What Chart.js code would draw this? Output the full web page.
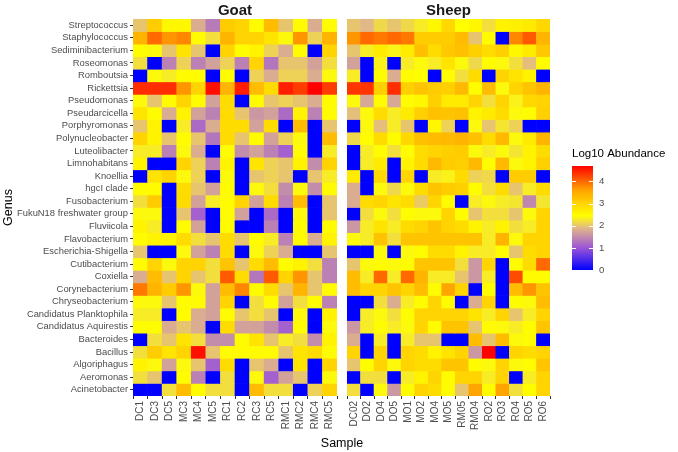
<!DOCTYPE html>
<html lang="en">
<head>
    <meta charset="UTF-8">
    <title>Genus abundance heatmap</title>
    <script src="https://cdn.jsdelivr.net/npm/chart.js"></script>
    <style>
        body {
            margin: 0;
            padding: 0;
            background-color: #fff;
        }

        .wrap {
            position: relative;
            width: 678px;
            height: 452px;
        }

        .wrap canvas {
            position: absolute;
            left: 0;
            top: 0;
        }
    </style>
</head>
<body>
    <div class="wrap">
        <canvas id="goatChart" width="678" height="452"></canvas>
        <canvas id="sheepChart" width="678" height="452"></canvas>
    </div>
    <script>
        // rows, top to bottom
        const genera = [
            'Streptococcus', 'Staphylococcus', 'Sediminibacterium', 'Roseomonas', 'Romboutsia',
            'Rickettsia', 'Pseudomonas', 'Pseudarcicella', 'Porphyromonas', 'Polynucleobacter',
            'Luteolibacter', 'Limnohabitans', 'Knoellia', 'hgcI clade', 'Fusobacterium',
            'FukuN18 freshwater group', 'Fluviicola', 'Flavobacterium', 'Escherichia-Shigella', 'Cutibacterium',
            'Coxiella', 'Corynebacterium', 'Chryseobacterium', 'Candidatus Planktophila', 'Candidatus Aquirestis',
            'Bacteroides', 'Bacillus', 'Algoriphagus', 'Aeromonas', 'Acinetobacter'
        ];

        const goatSamples = ['DC1', 'DC3', 'DC5', 'MC3', 'MC4', 'MC5', 'RC1', 'RC2', 'RC3', 'RC5', 'RMC1', 'RMC2', 'RMC4', 'RMC5'];
        const sheepSamples = ['DC02', 'DO2', 'DO4', 'DO5', 'MO1', 'MO2', 'MO4', 'MO5', 'RM05', 'RMO4', 'RO2', 'RO3', 'RO4', 'RO5', 'RO6'];

        // log10 abundance, one row per genus (same order as genera)
        const goatValues = [
            [2.0, 3.1, 2.55, 2.55, 1.8, 1.35, 3.1, 3.0, 2.5, 3.3, 2.0, 2.5, 1.8, 2.5],
            [3.4, 4.0, 3.7, 3.8, 2.5, 2.2, 3.4, 3.0, 3.0, 2.8, 2.4, 3.7, 2.1, 3.4],
            [2.5, 2.4, 2.0, 2.8, 2.0, 0, 3.0, 2.5, 2.6, 2.1, 1.8, 2.5, 0, 3.0],
            [2.2, 0, 1.4, 2.1, 1.4, 1.7, 2.1, 1.4, 3.0, 1.3, 2.0, 2.0, 1.7, 2.2],
            [0, 2.4, 2.3, 2.5, 2.5, 0, 2.5, 0, 2.1, 1.8, 2.1, 2.1, 1.8, 2.4],
            [4.4, 4.4, 4.4, 3.7, 3.0, 4.6, 3.4, 4.5, 3.3, 2.9, 4.5, 4.3, 4.7, 4.3],
            [2.4, 2.0, 2.5, 3.0, 2.5, 1.7, 2.9, 0, 2.5, 2.0, 2.1, 2.0, 1.8, 2.5],
            [2.8, 2.5, 1.8, 2.6, 1.7, 1.4, 2.9, 2.0, 1.6, 1.7, 1.2, 2.6, 1.4, 2.5],
            [2.0, 2.6, 0, 2.3, 1.2, 1.8, 2.9, 2.9, 1.7, 2.9, 0, 3.3, 0, 2.0],
            [3.0, 2.6, 2.0, 2.5, 2.0, 1.3, 2.9, 2.0, 2.5, 1.7, 2.1, 2.4, 0, 3.3],
            [2.3, 2.3, 1.4, 2.4, 1.8, 0, 2.5, 1.5, 1.7, 1.4, 1.1, 2.5, 0, 2.3],
            [2.6, 0, 0, 3.0, 2.1, 1.4, 2.6, 0, 2.8, 2.1, 2.0, 2.6, 1.5, 3.0],
            [0, 2.8, 3.0, 2.4, 2.1, 0, 2.4, 0, 2.0, 2.1, 2.0, 0, 2.0, 2.3],
            [2.5, 2.5, 0, 2.9, 2.0, 1.7, 2.5, 0, 2.4, 2.2, 1.5, 2.4, 1.5, 2.5],
            [2.2, 3.1, 0, 2.9, 1.7, 2.3, 2.5, 3.0, 1.7, 2.9, 1.4, 3.3, 0, 2.0],
            [2.4, 2.4, 0, 2.0, 1.1, 0, 2.5, 1.7, 0, 1.2, 0, 2.4, 0, 2.0],
            [2.6, 2.3, 0, 2.5, 1.7, 0, 2.5, 0, 0, 1.4, 0, 2.5, 0, 2.5],
            [2.5, 2.6, 2.6, 2.9, 2.2, 2.0, 2.9, 2.0, 2.5, 2.3, 1.4, 2.5, 1.8, 2.6],
            [2.0, 0, 0, 2.4, 1.7, 1.4, 2.9, 0, 2.4, 2.1, 1.8, 0, 0, 2.0],
            [2.5, 3.0, 2.4, 3.0, 3.0, 2.2, 3.2, 2.0, 2.9, 3.3, 2.5, 2.6, 2.2, 1.4],
            [1.8, 3.3, 2.0, 3.0, 2.0, 2.2, 4.1, 2.9, 1.3, 4.1, 3.0, 3.7, 2.0, 1.4],
            [3.9, 3.4, 3.1, 3.7, 2.4, 1.7, 3.3, 3.8, 2.5, 2.9, 2.0, 3.4, 2.0, 2.5],
            [2.4, 2.4, 2.0, 2.5, 2.5, 1.7, 3.0, 0, 2.2, 2.5, 1.7, 2.2, 2.5, 1.4],
            [2.3, 2.3, 0, 2.5, 1.8, 1.7, 2.5, 2.0, 2.2, 2.0, 0, 2.4, 0, 2.6],
            [2.5, 2.5, 1.8, 2.0, 1.8, 0, 2.9, 1.7, 1.7, 1.5, 1.1, 2.5, 0, 2.4],
            [0, 2.2, 2.0, 2.8, 2.2, 1.5, 1.5, 2.5, 2.8, 2.0, 2.3, 2.2, 1.5, 2.6],
            [2.2, 3.1, 2.8, 3.0, 4.6, 2.0, 2.5, 2.5, 2.5, 2.5, 2.0, 2.8, 2.9, 2.5],
            [2.6, 2.4, 1.7, 2.4, 2.0, 1.1, 2.9, 0, 2.0, 1.8, 0, 2.8, 0, 3.0],
            [2.2, 2.0, 0, 2.5, 1.4, 0, 2.2, 0, 2.4, 1.1, 1.7, 2.0, 0, 2.4],
            [0, 0, 2.2, 3.3, 2.5, 2.2, 2.2, 0, 3.3, 2.2, 2.2, 0, 2.1, 3.0]
        ];

        const sheepValues = [
            [2.0, 1.9, 2.15, 2.0, 2.15, 2.3, 2.55, 2.95, 2.45, 2.55, 2.2, 2.6, 2.65, 2.7, 2.95],
            [3.7, 4.0, 3.9, 4.0, 3.9, 3.1, 3.1, 3.1, 3.3, 2.0, 2.5, 0, 3.8, 4.1, 3.4],
            [2.0, 2.3, 2.7, 2.35, 2.7, 3.25, 2.9, 3.15, 3.25, 3.05, 2.9, 3.05, 2.55, 2.7, 3.15],
            [1.7, 0, 2.35, 0, 2.3, 2.4, 2.3, 2.8, 2.4, 2.15, 2.5, 2.4, 2.2, 1.95, 2.5],
            [2.3, 0, 2.5, 1.8, 2.5, 2.45, 0, 2.5, 2.2, 2.9, 0, 3.0, 2.8, 2.6, 0],
            [4.35, 4.35, 3.05, 4.4, 3.05, 3.2, 3.1, 3.05, 3.35, 2.5, 3.3, 2.4, 3.0, 3.2, 3.4],
            [2.4, 1.75, 2.5, 1.75, 2.5, 2.55, 3.05, 2.7, 2.7, 3.0, 2.2, 3.0, 2.35, 2.95, 3.0],
            [1.95, 2.4, 2.9, 2.3, 2.7, 3.05, 3.25, 3.2, 3.25, 2.6, 2.7, 2.9, 2.4, 2.5, 3.05],
            [0, 2.4, 1.95, 2.3, 2.0, 0, 2.55, 2.1, 0, 2.4, 2.0, 2.25, 2.1, 0, 0],
            [2.15, 2.5, 2.9, 2.5, 2.95, 3.25, 3.3, 3.35, 3.4, 3.25, 2.9, 3.35, 2.4, 2.7, 3.4],
            [0, 2.3, 2.5, 2.2, 2.5, 2.9, 3.0, 3.05, 3.1, 2.4, 2.3, 2.4, 2.25, 2.6, 2.9],
            [0, 2.3, 2.7, 0, 2.6, 2.9, 3.35, 3.1, 3.05, 3.35, 2.5, 3.35, 2.4, 2.6, 3.05],
            [2.7, 0, 2.95, 0, 3.0, 0, 2.3, 2.35, 2.9, 2.1, 2.15, 0, 3.1, 3.1, 0],
            [1.8, 0, 2.4, 2.15, 2.4, 2.9, 3.2, 3.1, 3.05, 2.5, 2.2, 2.9, 2.0, 2.3, 2.9],
            [1.8, 2.9, 3.0, 2.8, 2.9, 2.05, 3.0, 2.5, 0, 2.3, 2.4, 2.3, 2.25, 1.45, 2.25],
            [0, 2.2, 2.4, 2.2, 2.5, 2.4, 2.4, 3.0, 2.5, 2.0, 2.2, 2.2, 2.0, 2.4, 3.0],
            [1.6, 2.3, 2.8, 2.3, 2.9, 3.0, 3.2, 3.0, 2.9, 2.6, 2.3, 2.6, 2.2, 2.3, 3.0],
            [2.4, 2.3, 3.2, 2.2, 3.2, 3.2, 3.2, 3.2, 3.2, 3.2, 2.3, 3.4, 2.4, 3.0, 3.0],
            [0, 0, 2.4, 0, 2.4, 2.5, 2.9, 2.9, 2.6, 2.3, 2.3, 2.5, 2.0, 2.9, 3.0],
            [2.0, 2.4, 2.5, 2.4, 2.5, 3.2, 3.2, 3.2, 2.2, 1.6, 3.0, 0, 2.5, 2.9, 4.0],
            [3.3, 2.3, 4.0, 2.3, 4.0, 3.4, 2.3, 2.3, 2.0, 1.6, 2.3, 0, 4.2, 2.5, 2.5],
            [3.3, 3.0, 3.0, 3.2, 3.0, 3.3, 2.5, 3.6, 3.0, 0, 2.5, 0, 3.3, 3.7, 3.2],
            [0, 0, 2.2, 1.8, 2.3, 2.5, 3.0, 2.5, 0, 1.8, 3.0, 0, 2.5, 2.4, 3.3],
            [0, 2.3, 2.4, 2.2, 2.5, 3.0, 3.0, 3.0, 3.0, 2.8, 2.3, 3.0, 2.0, 2.3, 3.0],
            [1.6, 2.3, 2.5, 2.3, 2.4, 3.0, 2.5, 3.2, 3.2, 2.0, 2.5, 2.4, 2.3, 2.5, 3.2],
            [1.8, 0, 2.3, 0, 2.3, 2.0, 2.0, 0, 0, 3.3, 2.0, 3.3, 2.4, 2.5, 0],
            [3.0, 0, 3.0, 0, 3.0, 2.9, 2.6, 2.8, 3.0, 1.6, 4.7, 0, 3.0, 2.9, 3.0],
            [2.0, 2.5, 3.0, 2.4, 3.0, 2.9, 2.9, 3.2, 3.2, 2.5, 2.4, 3.0, 2.4, 2.5, 3.2],
            [0, 2.2, 2.2, 0, 2.3, 2.6, 3.0, 2.5, 3.0, 3.0, 2.3, 3.0, 0, 2.3, 3.0],
            [2.2, 0, 2.4, 1.6, 2.5, 3.0, 2.9, 2.5, 2.0, 3.6, 2.5, 3.6, 2.2, 2.5, 3.0]
        ];

        const legendTicks = [0, 1, 2, 3, 4];
        const legendMax = 4.7;

        // blue -> purple -> tan -> yellow -> orange -> red
        const colorStops = [
            { v: 0, c: [0, 0, 255] },
            { v: 1.0, c: [155, 85, 215] },
            { v: 1.9, c: [226, 184, 136] },
            { v: 2.45, c: [255, 255, 0] },
            { v: 3.6, c: [255, 165, 0] },
            { v: 4.7, c: [255, 0, 0] }
        ];

        function colorFor(v) {
            for (let i = 1; i < colorStops.length; i++) {
                const a = colorStops[i - 1], b = colorStops[i];
                if (v <= b.v || i === colorStops.length - 1) {
                    const t = Math.max(0, Math.min(1, (v - a.v) / (b.v - a.v)));
                    const c = a.c.map((x, k) => Math.round(x + (b.c[k] - x) * t));
                    return `rgb(${c[0]},${c[1]},${c[2]})`;
                }
            }
        }

        const FONT = "'Liberation Sans', Arial, sans-serif";
        const n = genera.length;

        function buildDatasets(values) {
            return genera.map((g, r) => ({
                label: g,
                data: values[r].map(() => [n - 1 - r - 0.5, n - 1 - r + 0.5]),
                backgroundColor: values[r].map(colorFor),
                borderWidth: 0,
                barPercentage: 1,
                categoryPercentage: 1,
                grouped: false
            }));
        }

        // strip title above each panel
        const stripTitle = {
            id: 'stripTitle',
            afterDraw(chart, args, opts) {
                const { ctx, chartArea } = chart;
                ctx.save();
                ctx.font = `bold 15px ${FONT}`;
                ctx.fillStyle = '#1a1a1a';
                ctx.textAlign = 'center';
                ctx.textBaseline = 'alphabetic';
                ctx.fillText(opts.text, (chartArea.left + chartArea.right) / 2, 15);
                ctx.restore();
            }
        };

        // axis titles shared by both panels
        const axisTitles = {
            id: 'axisTitles',
            afterDraw(chart) {
                const { ctx, chartArea } = chart;
                ctx.save();
                ctx.font = `12.5px ${FONT}`;
                ctx.fillStyle = '#000';
                ctx.textAlign = 'center';
                ctx.textBaseline = 'middle';
                ctx.fillText('Sample', 342, 444);
                ctx.translate(9, (chartArea.top + chartArea.bottom) / 2);
                ctx.rotate(-Math.PI / 2);
                ctx.fillText('Genus', 0, 0);
                ctx.restore();
            }
        };

        // colour bar legend
        const colorBar = {
            id: 'colorBar',
            afterDraw(chart) {
                const { ctx } = chart;
                const x0 = 572, x1 = 593, yTop = 166, yBot = 270;
                const yOf = v => yBot - (v / legendMax) * (yBot - yTop);
                ctx.save();
                const grad = ctx.createLinearGradient(0, yBot, 0, yTop);
                for (let i = 0; i <= 40; i++) {
                    const v = legendMax * i / 40;
                    grad.addColorStop(i / 40, colorFor(v));
                }
                ctx.fillStyle = grad;
                ctx.fillRect(x0, yTop, x1 - x0, yBot - yTop);

                ctx.strokeStyle = '#fff';
                ctx.lineWidth = 1;
                legendTicks.forEach(v => {
                    const y = Math.round(yOf(v)) + 0.5;
                    ctx.beginPath();
                    ctx.moveTo(x0, y); ctx.lineTo(x0 + 4, y);
                    ctx.moveTo(x1 - 4, y); ctx.lineTo(x1, y);
                    ctx.stroke();
                });

                ctx.font = `9.6px ${FONT}`;
                ctx.fillStyle = '#4d4d4d';
                ctx.textAlign = 'left';
                ctx.textBaseline = 'middle';
                legendTicks.forEach(v => ctx.fillText(String(v), 599, yOf(v)));

                ctx.font = `11.5px ${FONT}`;
                ctx.fillStyle = '#000';
                ctx.textBaseline = 'alphabetic';
                ctx.fillText('Log10 Abundance', 572, 157);
                ctx.restore();
            }
        };

        function panelOptions(title, showY, padding) {
            return {
                responsive: false,
                animation: false,
                layout: { padding },
                plugins: {
                    legend: { display: false },
                    tooltip: { enabled: false },
                    stripTitle: { text: title }
                },
                scales: {
                    x: {
                        type: 'category',
                        grid: { display: true, drawOnChartArea: false, drawTicks: true, tickLength: 3, color: '#333333' },
                        border: { display: false },
                        ticks: {
                            autoSkip: false,
                            minRotation: 90,
                            maxRotation: 90,
                            padding: 2,
                            color: '#4d4d4d',
                            font: { family: FONT, size: 10 }
                        },
                        afterFit(scale) { scale.height = 56; }
                    },
                    y: {
                        type: 'linear',
                        display: showY,
                        min: -0.5,
                        max: n - 0.5,
                        grid: { display: true, drawOnChartArea: false, drawTicks: true, tickLength: 3, color: '#333333' },
                        border: { display: false },
                        afterBuildTicks(scale) {
                            scale.ticks = genera.map((g, i) => ({ value: n - 1 - i }));
                        },
                        ticks: {
                            autoSkip: false,
                            padding: 2,
                            color: '#4d4d4d',
                            font: { family: FONT, size: 9.4 },
                            callback: v => genera[n - 1 - v]
                        },
                        afterFit(scale) { scale.width = showY ? 133 : 0; }
                    }
                }
            };
        }

        new Chart(document.getElementById('goatChart'), {
            type: 'bar',
            data: { labels: goatSamples, datasets: buildDatasets(goatValues) },
            options: panelOptions('Goat', true, { top: 19, left: 0, right: 678 - 337, bottom: 0 }),
            plugins: [stripTitle, axisTitles]
        });

        new Chart(document.getElementById('sheepChart'), {
            type: 'bar',
            data: { labels: sheepSamples, datasets: buildDatasets(sheepValues) },
            options: panelOptions('Sheep', false, { top: 19, left: 347, right: 678 - 550, bottom: 0 }),
            plugins: [stripTitle, colorBar]
        });
    </script>
</body>
</html>
